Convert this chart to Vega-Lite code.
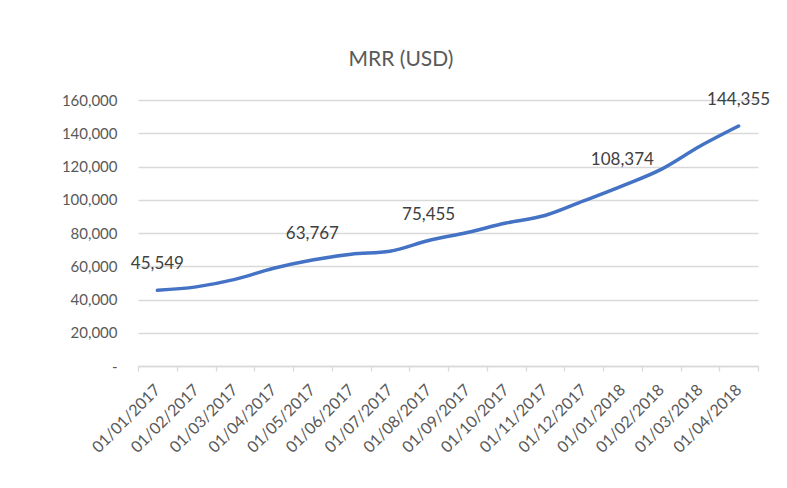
{
  "$schema": "https://vega.github.io/schema/vega-lite/v6.json",
  "width": 620,
  "height": 266,
  "autosize": {"type": "none"},
  "padding": {"left": 138, "top": 100, "right": 29, "bottom": 122},
  "background": "white",
  "title": {
    "text": "MRR (USD)",
    "fontSize": 21,
    "font": "Lato",
    "fontWeight": "normal",
    "color": "#595959",
    "anchor": "middle",
    "dx": -47,
    "offset": 4,
    "baseline": "alphabetic"
  },
  "config": {
    "view": {"stroke": null},
    "font": "Lato"
  },
  "data": {
    "values": [
      {"date": "01/01/2017", "mrr": 45549, "label": "45,549"},
      {"date": "01/02/2017", "mrr": 47600, "label": ""},
      {"date": "01/03/2017", "mrr": 52100, "label": ""},
      {"date": "01/04/2017", "mrr": 58800, "label": ""},
      {"date": "01/05/2017", "mrr": 63767, "label": "63,767"},
      {"date": "01/06/2017", "mrr": 67200, "label": ""},
      {"date": "01/07/2017", "mrr": 69000, "label": ""},
      {"date": "01/08/2017", "mrr": 75455, "label": "75,455"},
      {"date": "01/09/2017", "mrr": 80300, "label": ""},
      {"date": "01/10/2017", "mrr": 86000, "label": ""},
      {"date": "01/11/2017", "mrr": 90500, "label": ""},
      {"date": "01/12/2017", "mrr": 99300, "label": ""},
      {"date": "01/01/2018", "mrr": 108374, "label": "108,374"},
      {"date": "01/02/2018", "mrr": 118300, "label": ""},
      {"date": "01/03/2018", "mrr": 132200, "label": ""},
      {"date": "01/04/2018", "mrr": 144355, "label": "144,355"}
    ]
  },
  "encoding": {
    "x": {
      "field": "date",
      "type": "ordinal",
      "sort": null,
      "scale": {"type": "band", "paddingInner": 0, "paddingOuter": 0},
      "axis": {
        "title": null,
        "tickBand": "extent",
        "labelAngle": -45,
        "labelAlign": "right",
        "labelBaseline": "middle",
        "labelPadding": 16,
        "labelFontSize": 16,
        "labelColor": "#595959",
        "labelFont": "Lato",
        "domainColor": "#d9d9d9",
        "domainWidth": 1.3,
        "tickColor": "#d9d9d9",
        "tickSize": 5,
        "tickWidth": 1.3,
        "grid": false
      }
    },
    "y": {
      "field": "mrr",
      "type": "quantitative",
      "scale": {"domain": [0, 160000], "nice": false},
      "axis": {
        "title": null,
        "values": [0, 20000, 40000, 60000, 80000, 100000, 120000, 140000, 160000],
        "labelExpr": "datum.value == 0 ? '-' : format(datum.value, ',')",
        "labelFontSize": 15,
        "labelColor": "#595959",
        "labelFont": "Lato",
        "labelPadding": 21,
        "ticks": false,
        "domain": false,
        "grid": true,
        "gridColor": "#d9d9d9",
        "gridWidth": 1.3
      }
    }
  },
  "layer": [
    {
      "mark": {"type": "line", "color": "#4472C4", "strokeWidth": 3.5, "interpolate": "monotone", "strokeCap": "round"}
    },
    {
      "mark": {"type": "text", "dy": -26, "fontSize": 17, "font": "Lato", "color": "#404040"},
      "encoding": {"text": {"field": "label"}}
    }
  ]
}
